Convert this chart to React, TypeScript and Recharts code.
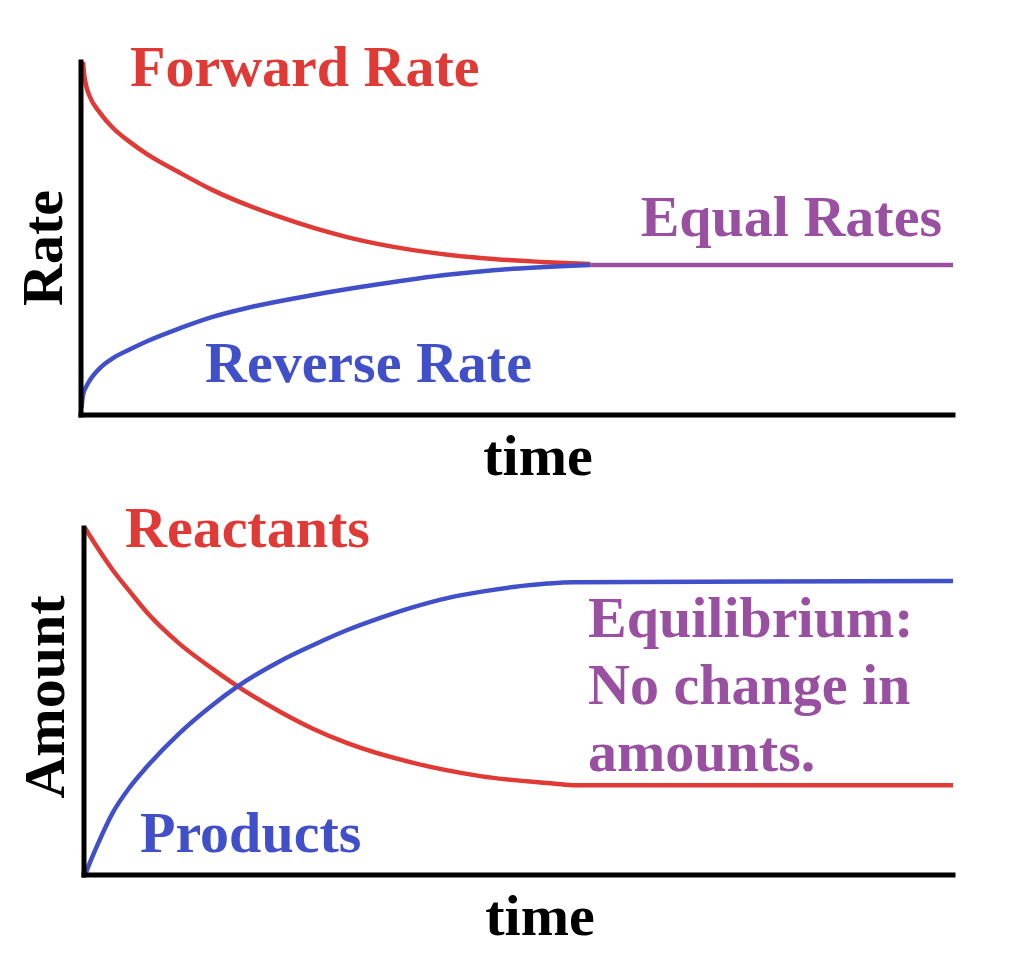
import { Line, LineChart, XAxis, YAxis } from "recharts";

const RED = "#e03a37";
const BLUE = "#4150c8";
const PURPLE = "#9a50a0";
const FONT = '"Liberation Serif", "Times New Roman", serif';

// top panel: rates vs time (time 0-100, rate 0-100)
const forwardTime = [0.23, 0.34, 0.57, 1.03, 2.18, 3.67, 5.62, 7.57, 11.35, 15.1, 22.8, 30.5, 38.1, 45.8, 53.4, 58.4];
const forwardRate = [100, 96.9, 93.5, 90.1, 85.6, 81.3, 77.3, 73.9, 68.6, 63.7, 56.1, 50.4, 46.7, 44.5, 43.3, 42.8];
const reverseTime = [0.06, 0.23, 0.57, 1.03, 2.18, 3.67, 5.62, 7.57, 11.35, 15.1, 19.0, 26.6, 34.3, 42.0, 49.5, 58.4];
const reverseRate = [2.0, 5.7, 7.9, 9.9, 13.3, 16.1, 18.6, 20.9, 24.6, 27.8, 30.3, 34.0, 37.1, 39.7, 41.4, 42.5];
const equalTime = [58.4, 100];
const equalRate = [42.5, 42.5];

// bottom panel: amounts vs time
const reactantTime = [0.12, 1.5, 3.3, 5.3, 7.2, 9.1, 11.0, 14.8, 17.6, 22.6, 26.4, 30.3, 37.9, 45.6, 53.3, 56.3, 100];
const reactantAmount = [100, 94.5, 87.9, 81.6, 75.8, 70.9, 66.6, 59.4, 54.5, 47.0, 42.1, 38.0, 32.3, 28.5, 26.5, 25.9, 25.9];
const productTime = [0.12, 0.7, 1.5, 3.3, 5.3, 7.2, 11.0, 14.8, 17.6, 22.6, 26.4, 30.3, 34.1, 37.9, 41.8, 45.6, 49.4, 53.3, 56.3, 100];
const productAmount = [0, 3.7, 8.4, 17.9, 25.4, 31.1, 40.9, 49.0, 54.2, 61.7, 66.3, 70.6, 74.1, 77.2, 79.8, 81.6, 83.0, 84.0, 84.4, 84.7];

const zip = (xs: number[], ys: number[]) => xs.map((t, i) => ({ t, v: ys[i] }));

const axisLine = { stroke: "#000", strokeWidth: 5, strokeLinecap: "square" as const };

function Panel({
  top,
  height,
  margin,
  series,
}: {
  top: number;
  height: number;
  margin: { top: number; left: number; right: number; bottom: number };
  series: { data: { t: number; v: number }[]; color: string; name: string }[];
}) {
  return (
    <div style={{ position: "absolute", left: 0, top }}>
      <LineChart width={1035} height={height} margin={margin}>
        <XAxis type="number" dataKey="t" domain={[0, 100]} height={1} tick={false} tickLine={false} axisLine={axisLine} />
        <YAxis type="number" dataKey="v" domain={[0, 100]} width={1} tick={false} tickLine={false} axisLine={axisLine} />
        {series.map((s) => (
          <Line
            key={s.name}
            data={s.data}
            dataKey="v"
            type="monotone"
            stroke={s.color}
            strokeWidth={4.5}
            dot={false}
            isAnimationActive={false}
          />
        ))}
      </LineChart>
    </div>
  );
}

export default function App() {
  const txt = { fontFamily: FONT, fontWeight: 700, fontSize: 58 };
  return (
    <div style={{ position: "absolute", left: 0, top: 0, width: 1035, height: 973, background: "#fff" }}>
      <Panel
        top={0}
        height={480}
        margin={{ top: 62, left: 80, right: 82, bottom: 64 }}
        series={[
          { name: "Equal Rates", data: zip(equalTime, equalRate), color: PURPLE },
          { name: "Forward Rate", data: zip(forwardTime, forwardRate), color: RED },
          { name: "Reverse Rate", data: zip(reverseTime, reverseRate), color: BLUE },
        ]}
      />
      <Panel
        top={480}
        height={493}
        margin={{ top: 48, left: 83, right: 82, bottom: 97 }}
        series={[
          { name: "Reactants", data: zip(reactantTime, reactantAmount), color: RED },
          { name: "Products", data: zip(productTime, productAmount), color: BLUE },
        ]}
      />
      <svg width={1035} height={973} style={{ position: "absolute", left: 0, top: 0, pointerEvents: "none" }}>
        <g style={txt}>
          <text x={130} y={86} fill={RED}>Forward Rate</text>
          <text x={942} y={236} fill={PURPLE} textAnchor="end">Equal Rates</text>
          <text x={205} y={382} fill={BLUE}>Reverse Rate</text>
          <text x={538} y={475} fill="#000" textAnchor="middle">time</text>
          <text transform="translate(62,248) rotate(-90)" fill="#000" textAnchor="middle">Rate</text>

          <text x={125} y={547} fill={RED}>Reactants</text>
          <text x={140} y={852} fill={BLUE}>Products</text>
          <text x={588} y={637} fill={PURPLE}>Equilibrium:</text>
          <text x={588} y={704} fill={PURPLE}>No change in</text>
          <text x={588} y={771} fill={PURPLE}>amounts.</text>
          <text x={540} y={935} fill="#000" textAnchor="middle">time</text>
          <text transform="translate(64,697) rotate(-90)" fill="#000" textAnchor="middle">Amount</text>
        </g>
      </svg>
    </div>
  );
}
